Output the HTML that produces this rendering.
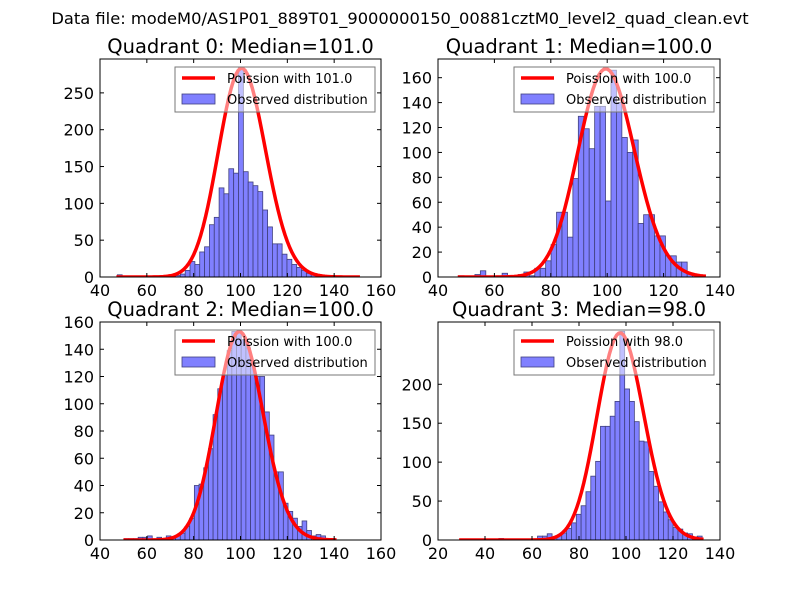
<!DOCTYPE html>
<html><head><meta charset="utf-8"><style>
body{margin:0;background:#fff;width:800px;height:600px;overflow:hidden}
svg{font-family:"DejaVu Sans","Liberation Sans",sans-serif}
</style></head><body>
<svg id="fig" width="800" height="600" viewBox="0 0 800 600" xmlns="http://www.w3.org/2000/svg">
<rect width="800" height="600" fill="#fff"/>
<text x="400" y="24" font-size="16.3" text-anchor="middle">Data file: modeM0/AS1P01_889T01_9000000150_00881cztM0_level2_quad_clean.evt</text>
</svg>
<script>
// Quadrant 0
const q0Start = 47.4, q0Width = 2.07, q0Lambda = 101, q0Scale = 7140;
const q0Counts = [3,0,0,0,1,0,1,1,1,1,1,1,2,4,9,21,17,34,41,71,81,121,113,147,141,284,143,129,124,116,91,68,45,45,31,24,17,13,9,5,3,2,1,1,1,0,0,0,0,0];
const q0XTicks = [40,60,80,100,120,140,160];
const q0YTicks = [0,50,100,150,200,250];
// Quadrant 1
const q1Start = 47.3, q1Width = 1.93, q1Lambda = 100, q1Scale = 4190;
const q1Counts = [1,0,0,2,5,0,0,1,3,0,1,2,4,1,7,7,13,26,52,52,32,79,129,119,103,137,137,61,166,140,112,100,110,43,50,50,33,33,17,17,12,12,3,2,1];
const q1XTicks = [40,60,80,100,120,140];
const q1YTicks = [0,20,40,60,80,100,120,140,160];
// Quadrant 2
const q2Start = 50.3, q2Width = 2.0, q2Lambda = 100, q2Scale = 3835;
const q2Counts = [1,1,1,2,2,3,0,2,1,3,2,3,5,10,16,40,41,53,67,92,111,121,139,153,153,147,141,130,120,120,94,77,50,50,27,21,16,10,14,7,3,4,3,1,1];
const q2XTicks = [40,60,80,100,120,140,160];
const q2YTicks = [0,20,40,60,80,100,120,140,160];
// Quadrant 3
const q3Start = 29.4, q3Width = 2.06, q3Lambda = 98, q3Scale = 6600;
const q3Counts = [1,0,0,0,0,0,0,0,2,0,0,0,0,1,1,1,5,5,8,4,6,9,15,22,33,44,62,82,101,146,146,159,178,268,194,178,152,127,126,88,69,49,36,26,16,14,9,8,4,5];
const q3XTicks = [20,40,60,80,100,120,140];
const q3YTicks = [0,50,100,150,200];

const NS = "http://www.w3.org/2000/svg";
const svg = document.getElementById('fig');
function mk(tag, attrs, parent){
  const e = document.createElementNS(NS, tag);
  for (const k in attrs) e.setAttribute(k, attrs[k]);
  (parent||svg).appendChild(e);
  return e;
}
function lgamma(z){
  let r = 0; while (z < 7){ r -= Math.log(z); z += 1; }
  const z2 = 1/(z*z);
  return r + (z-0.5)*Math.log(z) - z + 0.5*Math.log(2*Math.PI) + (1/z)*(1/12 - z2*(1/360 - z2/1260));
}
function pmf(k, lam){ return Math.exp(k*Math.log(lam) - lam - lgamma(k+1)); }

const panels = [
  {title:"Quadrant 0: Median=101.0", L:100,R:381,T:59,B:277, xmin:40,xmax:160, ymax:296, start:q0Start,width:q0Width,counts:q0Counts,lam:q0Lambda,scale:q0Scale,xt:q0XTicks,yt:q0YTicks,label:"Poission with 101.0"},
  {title:"Quadrant 1: Median=100.0", L:438,R:720,T:59,B:277, xmin:40,xmax:140, ymax:175, start:q1Start,width:q1Width,counts:q1Counts,lam:q1Lambda,scale:q1Scale,xt:q1XTicks,yt:q1YTicks,label:"Poission with 100.0"},
  {title:"Quadrant 2: Median=100.0", L:100,R:381,T:322,B:540, xmin:40,xmax:160, ymax:160, start:q2Start,width:q2Width,counts:q2Counts,lam:q2Lambda,scale:q2Scale,xt:q2XTicks,yt:q2YTicks,label:"Poission with 100.0"},
  {title:"Quadrant 3: Median=98.0", L:438,R:720,T:322,B:540, xmin:20,xmax:140, ymax:280, start:q3Start,width:q3Width,counts:q3Counts,lam:q3Lambda,scale:q3Scale,xt:q3XTicks,yt:q3YTicks,label:"Poission with 98.0"}
];

panels.forEach((p, pi) => {
  const g = mk('g', {});
  
  
  const sx = v => p.L + (v - p.xmin) / (p.xmax - p.xmin) * (p.R - p.L);
  const sy = v => p.B - v / p.ymax * (p.B - p.T);
  const cid = 'clip' + pi;
  const cp = mk('clipPath', {id:cid}, g);
  mk('rect', {x:p.L, y:p.T, width:p.R-p.L, height:p.B-p.T}, cp);
  const plot = mk('g', {'clip-path':'url(#'+cid+')'}, g);
  p.counts.forEach((c, i) => {
    if (c <= 0) return;
    const x0 = sx(p.start + i*p.width), x1 = sx(p.start + (i+1)*p.width);
    const b = mk('rect', {x:x0, y:sy(c), width:x1-x0, height:sy(0)-sy(c), fill:'#8080ff', stroke:'#40407f', 'stroke-width':0.8}, plot);
    
    
  });
  const lo = Math.floor(p.start), hi = Math.ceil(p.start + p.counts.length*p.width);
  let d = '';
  for (let k = lo; k <= hi; k++) {
    d += (k === lo ? 'M' : 'L') + sx(k).toFixed(2) + ',' + sy(p.scale * pmf(k, p.lam)).toFixed(2);
  }
  const curve = mk('path', {d:d, fill:'none', stroke:'#ff0000', 'stroke-width':3.5, 'stroke-linejoin':'round'}, plot);
  
  
  const fr = mk('rect', {x:p.L, y:p.T, width:p.R-p.L, height:p.B-p.T, fill:'none', stroke:'#000', 'stroke-width':1}, g);
  
  
  p.xt.forEach(v => {
    const x = sx(v);
    mk('line', {x1:x, y1:p.B, x2:x, y2:p.B-4, stroke:'#000'}, g);
    mk('line', {x1:x, y1:p.T, x2:x, y2:p.T+4, stroke:'#000'}, g);
    const t = mk('text', {x:x, y:p.B+19, 'font-size':16, 'text-anchor':'middle'}, g);
    
    
    t.textContent = v;
  });
  p.yt.forEach(v => {
    const y = sy(v);
    mk('line', {x1:p.L, y1:y, x2:p.L+4, y2:y, stroke:'#000'}, g);
    mk('line', {x1:p.R, y1:y, x2:p.R-4, y2:y, stroke:'#000'}, g);
    const t = mk('text', {x:p.L-6, y:y+6, 'font-size':16, 'text-anchor':'end'}, g);
    
    
    t.textContent = v;
  });
  const tt = mk('text', {x:(p.L+p.R)/2, y:p.T-6, 'font-size':19.5, 'text-anchor':'middle'}, g);
  
  
  tt.textContent = p.title;
  const lx = p.R - 206, ly = p.T + 8;
  const lg = mk('g', {}, g);
  
  
  mk('rect', {x:lx, y:ly, width:200, height:45, fill:'#fff', 'fill-opacity':0.5, stroke:'#777', 'stroke-width':1}, lg);
  const l1 = mk('line', {x1:lx+7, y1:ly+11, x2:lx+40, y2:ly+11, stroke:'#ff0000', 'stroke-width':3.5}, lg);
  
  
  const t1 = mk('text', {x:lx+52, y:ly+16, 'font-size':13}, lg);
  t1.textContent = p.label;
  const r2 = mk('rect', {x:lx+7, y:ly+27, width:33, height:10, fill:'#8080ff', stroke:'#40407f', 'stroke-width':0.8}, lg);
  
  
  const t2 = mk('text', {x:lx+52, y:ly+37, 'font-size':13}, lg);
  t2.textContent = 'Observed distribution';
});
</script>
</body></html>
